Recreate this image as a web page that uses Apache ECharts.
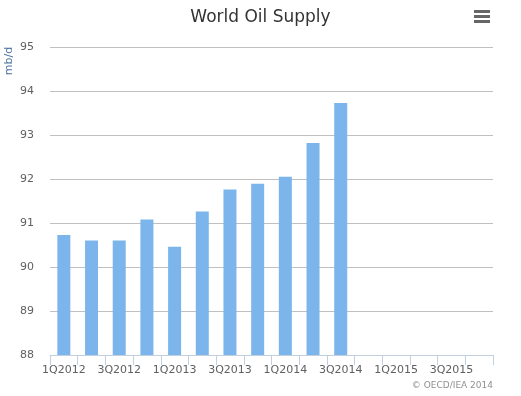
<!DOCTYPE html>
<html>
<head>
<meta charset="utf-8">
<script src="https://cdn.jsdelivr.net/npm/echarts@6/dist/echarts.min.js"></script>
<style>html,body{margin:0;padding:0;background:#fff}#c{width:521px;height:396px}</style>
</head>
<body>
<div id="c"></div>
<script>
var categories = ['1Q2012','2Q2012','3Q2012','4Q2012','1Q2013','2Q2013','3Q2013','4Q2013','1Q2014','2Q2014','3Q2014','4Q2014','1Q2015','2Q2015','3Q2015','4Q2015'];
var supply = [90.73, 90.60, 90.60, 91.08, 90.46, 91.26, 91.76, 91.89, 92.05, 92.82, 93.73, null, null, null, null, null];
var yTicks = [88, 89, 90, 91, 92, 93, 94, 95];
var yTitle = 'mb/d';

var font = '"DejaVu Sans", sans-serif';
var chart = echarts.init(document.getElementById('c'), null, {renderer: 'canvas'});
chart.setOption({
  animation: false,
  title: {
    text: 'World Oil Supply', left: 'center', top: 4,
    textStyle: {fontFamily: font, fontSize: 17, fontWeight: 'normal', color: '#333333'}
  },
  grid: {left: 50, right: 28, top: 47, bottom: 41, containLabel: false},
  xAxis: {
    type: 'category', data: categories,
    axisLine: {lineStyle: {color: '#C0D0E0', width: 1}},
    axisTick: {show: true, alignWithLabel: false, interval: 0, length: 10, lineStyle: {color: '#C0D0E0'}},
    axisLabel: {interval: 1, margin: 10, fontFamily: font, fontSize: 11, color: '#606060'}
  },
  yAxis: {
    type: 'value', min: yTicks[0], max: yTicks[yTicks.length - 1], interval: 1,
    axisLine: {show: false}, axisTick: {show: false},
    axisLabel: {margin: 16, fontFamily: font, fontSize: 11, color: '#606060'},
    splitLine: {lineStyle: {color: '#C0C0C0', width: 1}}
  },
  series: [{
    type: 'bar', data: supply, barWidth: 13,
    itemStyle: {color: '#7cb5ec'}
  }],
  graphic: [
    {type: 'text', x: 9, y: 61, rotation: Math.PI / 2,
     style: {text: yTitle, fontFamily: font, fontSize: 11, fill: '#4d759e', align: 'center', verticalAlign: 'middle'}},
    {type: 'text', right: 28, top: 381, style: {text: '© OECD/IEA 2014', fontFamily: font, fontSize: 9, fill: '#909090'}},
    {type: 'rect', shape: {x: 474, y: 10, width: 16, height: 3}, style: {fill: '#666666'}},
    {type: 'rect', shape: {x: 474, y: 15, width: 16, height: 3}, style: {fill: '#666666'}},
    {type: 'rect', shape: {x: 474, y: 20, width: 16, height: 3}, style: {fill: '#666666'}}
  ]
});
</script>
</body>
</html>
